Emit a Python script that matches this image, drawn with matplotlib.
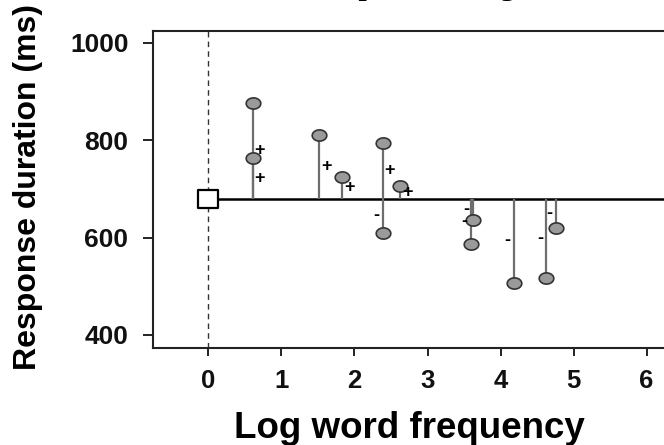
import numpy as np
import matplotlib
matplotlib.use("Agg")
import matplotlib.pyplot as plt
from matplotlib.path import Path

# ---- data ----
baseline_value = 680
origin_x = 0
word_freq = [0.61, 0.61, 1.52, 1.835, 2.39, 2.39, 2.63, 3.62, 3.60, 4.19, 4.63, 4.76]
durations = [877, 763, 810, 724, 794, 610, 705, 636, 586, 506, 518, 620]
xticks = [0, 1, 2, 3, 4, 5, 6]
yticks = [400, 600, 800, 1000]

plt.rcParams['font.family'] = ['Liberation Sans', 'DejaVu Sans']

fig = plt.figure(figsize=(6.64, 4.45), dpi=100)
W, H = 664, 445
# axes in pixel coords
left_px, right_px, top_px, bot_px = 153, 702, 31, 348
ax = fig.add_axes([left_px / W, 1 - bot_px / H, (right_px - left_px) / W, (bot_px - top_px) / H])
ax.set_xlim(-0.76, 6.76)
ax.set_ylim(373.3, 1024)

# ellipse marker (slightly wider than tall)
t = np.linspace(0, 2 * np.pi, 60)
ell = Path(np.column_stack([1.3 * np.cos(t), np.sin(t)]), closed=True)
rect = Path([(-1.2, -1), (1.2, -1), (1.2, 1), (-1.2, 1), (-1.2, -1)], closed=True)

# dashed vertical line at origin
ax.axvline(origin_x, color='#333333', lw=1.0, ls=(0, (4, 3)), zorder=1)
# baseline
ax.plot([origin_x, 6.76], [baseline_value, baseline_value], color='black', lw=1.8, zorder=2)

# stems
for xv, yv in zip(word_freq, durations):
    ax.plot([xv, xv], [baseline_value, yv], color='#6e6e6e', lw=1.6, zorder=3, solid_capstyle='butt')
# points
ax.plot(word_freq, durations, ls='none', marker=ell, markersize=10.5,
        markerfacecolor='#9a9a9a', markeredgecolor='#333333', markeredgewidth=1.2, zorder=4)

# signs
for xv, yv in zip(word_freq, durations):
    mid = (yv + baseline_value) / 2
    if yv > baseline_value:
        ax.text(xv + 0.09, mid, '+', ha='center', va='center', fontsize=13,
                fontweight='bold', color='black', zorder=5)
    else:
        ax.text(xv - 0.09, mid, '-', ha='center', va='center', fontsize=13,
                fontweight='bold', color='black', zorder=5)

# origin square
ax.plot([origin_x], [baseline_value], ls='none', marker=rect, markersize=15,
        markerfacecolor='white', markeredgecolor='black', markeredgewidth=1.6, zorder=6)

# spines & ticks
for s in ['left', 'top', 'bottom', 'right']:
    ax.spines[s].set_linewidth(1.5)
    ax.spines[s].set_color('#222222')
ax.set_xticks(xticks)
ax.set_yticks(yticks)
ax.tick_params(axis='y', direction='out', length=7.2, width=1.3, pad=10.5, labelsize=19, colors='#111111')
ax.tick_params(axis='x', direction='out', length=6, width=1.3, pad=9, labelsize=18.5, colors='#111111')
for lab in ax.get_xticklabels() + ax.get_yticklabels():
    lab.set_fontweight('bold')

# labels
fig.text(409 / W, 1 - 438 / H, 'Log word frequency', ha='center', va='baseline',
         fontsize=26.5, fontweight='bold')
fig.text(13 / W, 1 - 187 / H, 'Response duration (ms)', ha='left', va='center',
         rotation=90, fontsize=23, fontweight='bold')
# title (mostly cut off at top)
fig.text(250 / W, 1 + 11 / H, 'Frequency', ha='left', va='baseline',
         fontsize=40, fontweight='bold')

fig.savefig('out.png', dpi=100)
